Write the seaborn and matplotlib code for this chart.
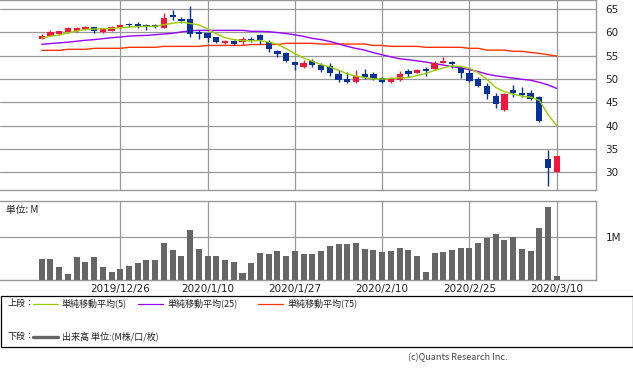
import matplotlib
matplotlib.use("Agg")
import matplotlib.pyplot as plt
from matplotlib.lines import Line2D
from matplotlib.patches import Rectangle
import seaborn as sns
import pandas as pd

# daily candles (index 0 = first trading day shown)
opens = [58.64, 59.22, 59.6, 60.07, 60.3, 60.65, 61.15, 60.07, 60.3, 60.93,
         61.8, 61.8, 61.55, 61.55, 60.93, 63.8, 62.9, 62.86, 60.1, 59.8,
         59.05, 57.72, 58.2, 58.0, 58.6, 59.5, 58.0, 56.1, 55.6, 53.65,
         52.64, 53.8, 53.0, 52.8, 51.1, 50.0, 49.4, 51.1, 51.1, 50.3,
         49.45, 49.8, 51.8, 51.36, 52.2, 52.15, 53.44, 53.65, 52.4, 51.36,
         50.0, 48.6, 46.3, 43.37, 47.65, 47.0, 47.0, 46.2, 32.9, 30.05]
highs = [59.65, 60.5, 60.35, 61.15, 61.1, 61.3, 61.2, 60.8, 61.3, 61.7,
         62.0, 62.2, 61.8, 61.7, 64.1, 64.8, 63.2, 65.6, 60.6, 59.9,
         59.1, 58.4, 58.45, 58.9, 59.1, 59.7, 58.4, 56.3, 55.9, 53.7,
         54.1, 54.2, 53.4, 53.4, 51.9, 51.5, 51.9, 52.15, 51.5, 50.5,
         50.5, 51.7, 52.1, 52.2, 52.65, 53.86, 54.8, 53.9, 52.65, 51.9,
         50.5, 49.1, 46.95, 47.0, 48.7, 48.4, 47.65, 46.4, 34.8, 33.6]
lows = [58.5, 59.2, 59.4, 59.9, 60.1, 60.5, 59.9, 59.86, 60.2, 60.7,
        61.2, 61.0, 60.4, 60.9, 60.93, 62.6, 61.9, 59.0, 58.5, 58.0,
        57.8, 57.6, 57.3, 57.4, 58.0, 57.6, 55.8, 54.7, 53.7, 52.0,
        52.4, 52.6, 51.6, 50.65, 49.4, 49.1, 49.1, 50.1, 49.8, 49.2,
        49.2, 49.6, 50.4, 51.3, 50.65, 51.94, 53.37, 52.45, 50.3, 49.4,
        48.2, 45.8, 43.75, 43.2, 46.2, 46.2, 45.6, 40.8, 27.2, 30.0]
closes = [59.22, 60.07, 60.3, 60.93, 60.9, 61.15, 60.36, 60.72, 61.15, 61.57,
          61.65, 61.2, 61.1, 61.1, 63.14, 63.2, 62.5, 59.6, 59.6, 58.85,
          58.0, 58.21, 57.6, 58.58, 58.4, 58.4, 56.5, 55.4, 53.9, 53.1,
          53.5, 53.0, 51.95, 51.35, 49.8, 49.4, 50.65, 50.5, 50.0, 49.45,
          50.2, 51.08, 51.1, 52.0, 51.65, 53.37, 53.93, 53.2, 51.35, 49.65,
          48.58, 46.86, 44.6, 46.8, 47.0, 46.5, 45.8, 41.1, 31.0, 33.6]

# moving averages
ma5 = [58.75, 59.2, 59.4, 59.9, 60.3, 60.65, 60.7, 60.8, 60.85, 61.0,
       61.1, 61.25, 61.3, 61.3, 61.65, 61.95, 62.2, 61.9, 61.6, 60.75,
       59.7, 58.85, 58.45, 58.25, 58.15, 58.25, 57.9, 57.45, 56.5, 55.45,
       54.5, 53.8, 53.1, 52.6, 51.9, 51.1, 50.6, 50.35, 50.05, 50.0,
       50.15, 50.25, 50.35, 50.75, 51.2, 51.85, 52.4, 52.8, 52.7, 52.3,
       51.35, 49.95, 48.2, 47.3, 46.75, 46.35, 46.15, 45.45, 42.4, 40.0]
ma25 = [57.45, 57.6, 57.75, 57.9, 58.1, 58.3, 58.45, 58.65, 58.85, 59.0,
        59.2, 59.3, 59.35, 59.5, 59.65, 59.8, 60.1, 60.35, 60.43, 60.43,
        60.43, 60.43, 60.43, 60.43, 60.22, 60.22, 60.15, 59.95, 59.75, 59.45,
        59.15, 58.7, 58.45, 58.05, 57.55, 57.0, 56.55, 56.2, 55.65, 55.2,
        54.75, 54.35, 54.15, 53.9, 53.65, 53.3, 53.0, 52.65, 52.4, 52.0,
        51.6, 51.05, 50.7, 50.45, 50.2, 49.95, 49.75, 49.3, 48.75, 48.0]
ma75 = [56.15, 56.15, 56.15, 56.37, 56.37, 56.37, 56.58, 56.58, 56.58, 56.58,
        56.8, 56.8, 56.8, 56.8, 57.0, 57.0, 57.0, 57.0, 57.0, 57.2,
        57.2, 57.2, 57.2, 57.2, 57.4, 57.4, 57.4, 57.4, 57.65, 57.65,
        57.65, 57.65, 57.5, 57.5, 57.5, 57.5, 57.5, 57.5, 57.2, 57.2,
        57.0, 57.0, 57.0, 57.0, 56.8, 56.8, 56.8, 56.8, 56.8, 56.58,
        56.58, 56.2, 56.2, 56.2, 55.94, 55.94, 55.7, 55.5, 55.2, 54.93]

# volume in millions
volume = [0.50, 0.50, 0.31, 0.15, 0.54, 0.43, 0.54, 0.31, 0.19, 0.26,
          0.33, 0.40, 0.47, 0.47, 0.87, 0.70, 0.57, 1.17, 0.73, 0.57,
          0.57, 0.47, 0.43, 0.17, 0.40, 0.64, 0.61, 0.68, 0.57, 0.68,
          0.61, 0.61, 0.68, 0.80, 0.85, 0.85, 0.87, 0.73, 0.70, 0.66,
          0.68, 0.75, 0.70, 0.57, 0.19, 0.64, 0.66, 0.70, 0.75, 0.75,
          0.87, 0.98, 1.08, 0.94, 1.01, 0.73, 0.68, 1.22, 1.70, 0.10]

tick_pos = [9, 19, 29, 39, 49, 59]
tick_labels = ["2019/12/26", "2020/1/10", "2020/1/27", "2020/2/10", "2020/2/25", "2020/3/10"]

sns.set_theme(style="white")
plt.rcParams["font.family"] = ["DejaVu Sans"]
jp = ["Noto Sans CJK JP", "DejaVu Sans"]

RED = "#f5143c"
BLUE = "#06319a"
GRID = "#999999"

df = pd.DataFrame({"i": range(len(closes)), "o": opens, "h": highs, "l": lows, "c": closes,
                   "ma5": ma5, "ma25": ma25, "ma75": ma75, "vol": volume})

fig = plt.figure(figsize=(6.33, 3.72), dpi=100)
ax = fig.add_axes([0, 0.4892, 0.9411, 0.5108])
ax2 = fig.add_axes([0, 0.2465, 0.9411, 0.2132])

xmin, xmax = -4.78, 63.46

# upper panel: candles + moving averages
for v in range(30, 70, 5):
    ax.axhline(v, color=GRID, lw=0.9, zorder=0)
for p in tick_pos:
    ax.axvline(p, color=GRID, lw=0.9, zorder=0)

sns.lineplot(data=df, x="i", y="ma75", color="#ff3300", lw=1.0, ax=ax, zorder=2)
sns.lineplot(data=df, x="i", y="ma25", color="#9900ff", lw=1.0, ax=ax, zorder=2)

colors = [RED if c >= o else BLUE for o, c in zip(opens, closes)]
ax.vlines(df["i"], df["l"], df["h"], colors=colors, lw=1.0, zorder=3)
bottoms = [min(o, c) for o, c in zip(opens, closes)]
heights = [max(abs(c - o), 0.12) for o, c in zip(opens, closes)]
ax.bar(df["i"], heights, bottom=bottoms, width=0.72, color=colors, linewidth=0, zorder=4)

sns.lineplot(data=df, x="i", y="ma5", color="#99cc00", lw=1.0, ax=ax, zorder=5)

ax.set_xlim(xmin, xmax)
ax.set_ylim(26.24, 66.93)
ax.set_xticks([])
ax.set_yticks(range(30, 70, 5))
ax.yaxis.tick_right()
ax.tick_params(axis="y", length=0, pad=7, labelsize=7.5, colors="#222222")
ax.set_xlabel("")
ax.set_ylabel("")
for s in ["top", "right", "bottom"]:
    ax.spines[s].set_color(GRID)
    ax.spines[s].set_linewidth(1.0)
ax.spines["left"].set_visible(False)

# lower panel: volume
ax2.axhline(1.0, color=GRID, lw=0.9, zorder=0)
for p in tick_pos:
    ax2.axvline(p, color=GRID, lw=0.9, zorder=0)
sns.barplot(data=df, x="i", y="vol", color="#666666", saturation=1, width=0.69,
            linewidth=0, ax=ax2, zorder=3)
ax2.set_xlim(xmin, xmax)
ax2.set_ylim(0, 1.844)
ax2.set_xticks(tick_pos)
ax2.set_xticklabels(tick_labels)
ax2.set_yticks([1.0])
ax2.set_yticklabels(["1M"])
ax2.yaxis.tick_right()
ax2.tick_params(axis="x", length=0, pad=3, labelsize=7.5, colors="#222222")
ax2.tick_params(axis="y", length=0, pad=7, labelsize=7.5, colors="#222222")
ax2.set_xlabel("")
ax2.set_ylabel("")
for s in ["top", "right", "bottom"]:
    ax2.spines[s].set_color(GRID)
    ax2.spines[s].set_linewidth(1.0)
ax2.spines["left"].set_visible(False)
ax2.text(0.01, 0.886, "単位: M", transform=ax2.transAxes, ha="left", va="center",
         fontsize=7, family=jp, color="#222222")

# legend box
W, H = 633.0, 372.0
def fx(px):
    return px / W
def fy(py):
    return 1 - py / H

fig.patches.append(Rectangle((fx(0.5), fy(346.7)), fx(632), 50.7 / H, fill=False,
                             edgecolor="black", lw=0.9, transform=fig.transFigure))

ty1, ty2 = fy(303.5), fy(336.5)
fig.text(fx(7), ty1, "上段：", fontsize=6.5, family=jp, va="center", color="#222222")
items = [(33, "#99cc00", "単純移動平均(5)"), (138, "#9900ff", "単純移動平均(25)"),
         (258, "#ff3300", "単純移動平均(75)")]
for x0, col, lab in items:
    fig.add_artist(Line2D([fx(x0), fx(x0 + 25)], [ty1, ty1], color=col, lw=0.9,
                          transform=fig.transFigure))
    fig.text(fx(x0 + 29), ty1, lab, fontsize=6.5, family=jp, va="center", color="#222222")

fig.text(fx(7), ty2, "下段：", fontsize=6.5, family=jp, va="center", color="#222222")
fig.add_artist(Line2D([fx(33), fx(58)], [ty2, ty2], color="#666666", lw=2.4,
                      transform=fig.transFigure))
fig.text(fx(62), ty2, "出来高 単位:(M株/口/枚)", fontsize=6.5, family=jp, va="center",
         color="#222222")

fig.text(fx(507), fy(358), "(c)Quants Research Inc.", fontsize=6.5, family=jp,
         ha="right", va="center", color="#444444")

fig.savefig("out.png", dpi=100)
